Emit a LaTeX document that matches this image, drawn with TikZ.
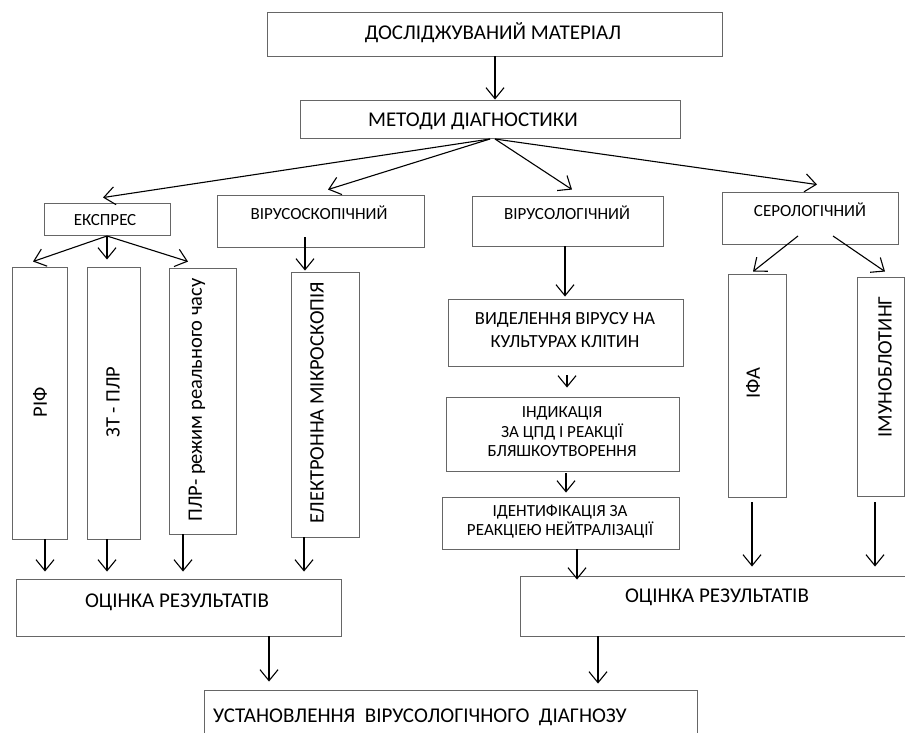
\documentclass[tikz,border=0pt]{standalone}
\usepackage{fontspec}
\setmainfont{Carlito}
\usetikzlibrary{arrows.meta}
\begin{document}
\begin{tikzpicture}[x=1pt,y=-1pt,
  box/.style={draw=black!60, line width=0.9pt, inner sep=0pt, fill=none},
  txt/.style={inner sep=0pt, align=center},
  arr/.style={line width=1.1pt, -{Straight Barb[length=11pt,width=18pt,line width=1.1pt]}},
  big/.style={font=\fontsize{21}{24}\selectfont},
  med/.style={font=\fontsize{17}{19}\selectfont},
  mid/.style={font=\fontsize{18.5}{23}\selectfont},
  vert/.style={rotate=90, font=\fontsize{20.5}{24}\selectfont, inner sep=0pt}
]
\useasboundingbox (0,0) rectangle (905,733);
\clip (0,0) rectangle (905,733);
\fill[white] (0,0) rectangle (905,733);

% boxes
\node[box, minimum width=455pt, minimum height=44pt] (top) at (494.5,34) {};
\node[txt, big] (topt) at (493,33) {ДОСЛІДЖУВАНИЙ МАТЕРІАЛ};
\node[box, minimum width=380pt, minimum height=38pt] (metody) at (490,119) {};
\node[txt, big] (metodyt) at (473,121) {МЕТОДИ ДІАГНОСТИКИ};

\node[box, minimum width=126pt, minimum height=32pt] (ekspres) at (107,219) {};
\node[txt, med] (ekspr) at (105,220) {ЕКСПРЕС};
\node[box, minimum width=207pt, minimum height=52pt] (vskop) at (320.5,221) {};
\node[txt, med] (vskopt) at (319,213) {ВІРУСОСКОПІЧНИЙ};
\node[box, minimum width=191pt, minimum height=50pt] (vlog) at (567.5,221) {};
\node[txt, med] (vlogt) at (567,213) {ВІРУСОЛОГІЧНИЙ};
\node[box, minimum width=176pt, minimum height=52pt] (serol) at (810,218) {};
\node[txt, med] (serolt) at (810,210) {СЕРОЛОГІЧНИЙ};

% vertical boxes
\node[box, minimum width=55pt, minimum height=272pt] (rif) at (39.5,403) {};
\node[vert] (rift) at (40,402) {РІФ};
\node[box, minimum width=53pt, minimum height=272pt] (zt) at (113.5,403) {};
\node[vert] (ztt) at (113,402) {ЗТ - ПЛР};
\node[box, minimum width=67pt, minimum height=266pt] (plr) at (202.5,401) {};
\node[vert] (plrt) at (197,400) {ПЛР- режим реального часу};
\node[box, minimum width=68pt, minimum height=265pt] (elek) at (325,404.5) {};
\node[vert] (elekt) at (317,403) {ЕЛЕКТРОННА МІКРОСКОПІЯ};

% virological chain
\node[box, minimum width=235pt, minimum height=67pt] (vydil) at (565.5,332.5) {};
\node[txt, mid] (vydilt) at (565,330) {ВИДЕЛЕННЯ ВІРУСУ НА\\КУЛЬТУРАХ КЛІТИН};
\node[box, minimum width=233pt, minimum height=74pt] (indyk) at (562.5,434) {};
\node[txt, font=\fontsize{17}{19.5}\selectfont] (indykt) at (562,432) {ІНДИКАЦІЯ\\ЗА ЦПД І РЕАКЦІЇ\\БЛЯШКОУТВОРЕННЯ};
\node[box, minimum width=237pt, minimum height=52pt] (ident) at (560.5,523) {};
\node[txt, font=\fontsize{17}{19}\selectfont] (identt) at (560,522) {ІДЕНТИФІКАЦІЯ ЗА\\РЕАКЦІЕЮ НЕЙТРАЛІЗАЦІЇ};

% serological
\node[box, minimum width=58pt, minimum height=223pt] (ifa) at (757,385.5) {};
\node[vert] (ifat) at (753,383) {ІФА};
\node[box, minimum width=47pt, minimum height=219pt] (imuno) at (880.5,386.5) {};
\node[vert] (imunot) at (885,367) {ІМУНОБЛОТИНГ};

% results
\node[box, minimum width=325pt, minimum height=57pt] (otsL) at (178.5,607.5) {};
\node[txt, big] (otsLt) at (177,602) {ОЦІНКА РЕЗУЛЬТАТІВ};
\node[box, minimum width=395pt, minimum height=60pt] (otsR) at (717.5,606) {};
\node[txt, big] (otsRt) at (717,597) {ОЦІНКА РЕЗУЛЬТАТІВ};

\node[box, minimum width=493pt, minimum height=60pt] (diag) at (450.5,720) {};
\node[txt, big, anchor=west] (diagt) at (213,717) {УСТАНОВЛЕННЯ\ \ ВІРУСОЛОГІЧНОГО\ \ ДІАГНОЗУ};

% arrows
\draw[arr] (top.south -| 495,0) -- (metody.north -| 495,0);
\coordinate (m1) at (490,139);
\coordinate (m2) at (495,139);
\draw[arr] (m1) -- ([shift={(-4,-5)}]ekspres.north);
\draw[arr] (m1) -- ([shift={(7.5,-5)}]vskop.north);
\draw[arr] (m2) -- ([shift={(4.5,-6)}]vlog.north);
\draw[arr] (m2) -- ([shift={(7,-7)}]serol.north);

\coordinate (e0) at (107,236);
\draw[arr] (e0) -- ([shift={(-6.5,-5)}]rif.north);
\draw[arr] (e0) -- ([shift={(-6.5,-7)}]zt.north);
\draw[arr] (e0) -- ([shift={(-14.5,-6)}]plr.north);
\draw[arr] (vskop.south -| 305,0) ++(0,-10) -- ([yshift=1pt]elek.north -| 305,0);

\draw[arr] (vlog.south -| 565,0) -- ([yshift=2pt]vydil.north -| 565,0);
\draw[arr] ([yshift=-9pt]vydil.south -| 567,0) -- ([yshift=9pt]indyk.north -| 567,0);
\draw[arr] ([yshift=-2pt]indyk.south -| 566,0) -- ([yshift=4pt]ident.north -| 566,0);
\draw[arr] (ident.south -| 577,0) -- ([yshift=-4pt]otsR.north -| 577,0);

\coordinate (s1) at (798,236);
\coordinate (s2) at (833,236);
\draw[arr] (s1) -- ([shift={(-4,-2)}]ifa.north);
\draw[arr] (s2) -- ([shift={(4.5,-5)}]imuno.north);

\draw[arr] (rif.south -| 45,0) -- ([yshift=7pt]otsL.north -| 45,0);
\draw[arr] (zt.south -| 107,0) -- ([yshift=7pt]otsL.north -| 107,0);
\draw[arr] (plr.south -| 183,0) -- ([yshift=7pt]otsL.north -| 183,0);
\draw[arr] (elek.south -| 304,0) -- ([yshift=7pt]otsL.north -| 304,0);
\draw[arr] ([yshift=-5pt]ifa.south -| 752,0) -- ([yshift=9pt]otsR.north -| 752,0);
\draw[arr] ([yshift=-6pt]imuno.south -| 875,0) -- ([yshift=9pt]otsR.north -| 875,0);

\draw[arr] (otsL.south -| 269,0) -- ([yshift=8pt]diag.north -| 269,0);
\draw[arr] (otsR.south -| 598,0) -- ([yshift=6pt]diag.north -| 598,0);
\end{tikzpicture}
\end{document}
